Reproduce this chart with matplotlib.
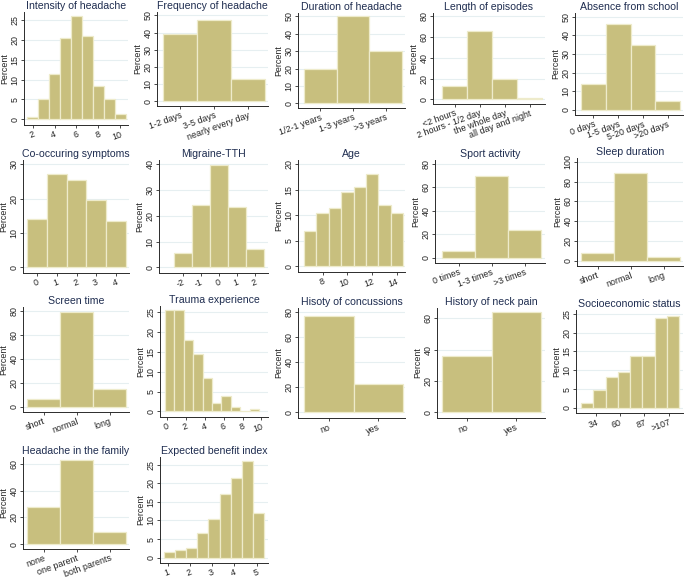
import matplotlib
matplotlib.use('Agg')
import matplotlib.pyplot as plt

plt.rcParams['font.family'] = ['Liberation Sans', 'DejaVu Sans']

W, H = 685, 578
FILL = '#C8BF7E'
EDGE = '#EEEBCB'
GRID = '#E6EFF1'
TITLE = '#1F2D50'
AXC = '#2b2b2b'
FS = 6.4

# ---------------- data ----------------
intensity_x = [2, 3, 4, 5, 6, 7, 8, 9, 10]
intensity_pct = [0.5, 5, 11.5, 20.5, 26, 21, 8.5, 5, 1.3]

frequency_cat = ['1-2 days', '3-5 days', 'nearly every day']
frequency_pct = [39, 47.5, 13]

duration_cat = ['1/2-1 years', '1-3 years', '>3 years']
duration_pct = [19.5, 50, 30]

episode_cat = ['<2 hours', '2 hours - 1/2 day', 'the whole day', 'all day and night']
episode_pct = [12.5, 65.5, 19.5, 1.5]

absence_cat = ['0 days', '1-5 days', '5-20 days', '>20 days']
absence_pct = [14, 46, 35, 5]

cooccur_x = [0, 1, 2, 3, 4]
cooccur_pct = [14, 27, 25.5, 19.5, 13.5]

migraine_x = [-2, -1, 0, 1, 2]
migraine_pct = [5.5, 24, 39.5, 23.5, 7]

age_x = [7, 8, 9, 10, 11, 12, 13, 14]
age_pct = [7, 10.5, 11.5, 14.5, 15.5, 18, 12, 10.5]

sport_cat = ['0 times', '1-3 times', '>3 times']
sport_pct = [5.5, 70, 24]

sleep_cat = ['short', 'normal', 'long']
sleep_pct = [7.5, 89, 3.5]

screen_cat = ['short', 'normal', 'long']
screen_pct = [6.5, 79, 14.5]

trauma_x = [0, 1, 2, 3, 4, 5, 6, 7, 8, 9]
trauma_pct = [25.5, 25.5, 18, 14.5, 8.5, 2, 4, 1, 0, 0.5]

concussion_cat = ['no', 'yes']
concussion_pct = [77, 23]

neck_cat = ['no', 'yes']
neck_pct = [36, 64]

ses_x = [24, 37.5, 51, 64.5, 78, 91.5, 105, 118.5]
ses_pct = [1.3, 4.8, 8.2, 9.5, 13.7, 13.7, 24, 24.5]
ses_ticks = [34, 60, 87, 114]
ses_ticklabels = ['34', '60', '87', '>107']

family_cat = ['none', 'one parent', 'both parents']
family_pct = [28, 62.5, 9]

benefit_x = [1.08, 1.58, 2.08, 2.58, 3.08, 3.58, 4.08, 4.58, 5.08]
benefit_pct = [1.5, 2, 2.5, 6.5, 10.5, 17, 21.5, 26, 12]

fig = plt.figure(figsize=(W / 100, H / 100), dpi=100)
fig.patch.set_facecolor('white')


def panel(title, centers, width, heights, xticks, xticklabels, yticks, box, barpx, xshift=0.0):
    L, T, R, B = box
    ax = fig.add_axes([L / W, 1 - B / H, (R - L) / W, (B - T) / H])
    centers = [c + xshift for c in centers]
    dl = centers[0] - width / 2
    dr = centers[-1] + width / 2
    bl, br = barpx
    s = (br - bl) / (dr - dl)
    ax.set_xlim(dl - (bl - L) / s, dr + (R - br) / s)
    top = max(max(yticks), max(heights))
    ax.set_ylim(-0.055 * top, top * 1.04)
    for y in yticks:
        ax.axhline(y, color=GRID, lw=0.8, zorder=0)
    ax.bar(centers, heights, width=width, color=FILL, edgecolor=EDGE, lw=0.9, zorder=2)
    ax.set_yticks(yticks)
    ax.set_yticklabels([str(v) for v in yticks], rotation=90, va='center', fontsize=FS)
    ax.set_xticks(xticks)
    ax.set_xticklabels(xticklabels, rotation=20, ha='right', va='top',
                       rotation_mode='anchor', fontsize=FS)
    for sp in ['top', 'right']:
        ax.spines[sp].set_visible(False)
    for sp in ['left', 'bottom']:
        ax.spines[sp].set_color(AXC)
        ax.spines[sp].set_linewidth(0.7)
    ax.tick_params(axis='both', length=2.2, width=0.6, color=AXC, pad=1.2, labelcolor='#222222')
    ax.set_ylabel('Percent', fontsize=FS, labelpad=0.8, color='#222222')
    ax.set_title(title, fontsize=7.6, color=TITLE, pad=2.5)
    ax.set_facecolor('white')
    return ax


def cat(labels):
    return list(range(len(labels)))


# Row 1
panel('Intensity of headache', intensity_x, 1, intensity_pct, [2, 4, 6, 8, 10],
      ['2', '4', '6', '8', '10'], [0, 5, 10, 15, 20, 25], (24, 12, 128, 125), (27, 126))
panel('Frequency of headache', cat(frequency_cat), 1, frequency_pct, cat(frequency_cat),
      frequency_cat, [0, 10, 20, 30, 40, 50], (157, 12, 268, 106), (163, 265))
panel('Duration of headache', cat(duration_cat), 1, duration_pct, cat(duration_cat),
      duration_cat, [0, 10, 20, 30, 40, 50], (298, 13, 405, 108), (304, 402))
panel('Length of episodes', cat(episode_cat), 1, episode_pct, cat(episode_cat),
      episode_cat, [0, 20, 40, 60, 80], (433, 13, 545, 104), (442, 542))
panel('Absence from school', cat(absence_cat), 1, absence_pct, cat(absence_cat),
      absence_cat, [0, 10, 20, 30, 40, 50], (575, 13, 683, 115), (581, 680))

# Row 2
panel('Co-occuring symptoms', cooccur_x, 1, cooccur_pct, cooccur_x,
      [str(v) for v in cooccur_x], [0, 10, 20, 30], (23, 160, 129, 273), (27, 126))
panel('Migraine-TTH', migraine_x, 1, migraine_pct, migraine_x,
      [str(v) for v in migraine_x], [0, 10, 20, 30, 40], (159, 160, 268, 273), (174, 264))
panel('Age', age_x, 1, age_pct, [8, 10, 12, 14],
      ['8', '10', '12', '14'], [0, 5, 10, 15, 20], (298, 160, 405, 272), (304, 403))
panel('Sport activity', cat(sport_cat), 1, sport_pct, cat(sport_cat),
      sport_cat, [0, 20, 40, 60, 80], (435, 160, 545, 263), (442, 541))
panel('Sleep duration', cat(sleep_cat), 1, sleep_pct, cat(sleep_cat),
      sleep_cat, [0, 20, 40, 60, 80, 100], (577, 158, 683, 266), (581, 680))

# Row 3
panel('Screen time', cat(screen_cat), 1, screen_pct, cat(screen_cat),
      screen_cat, [0, 20, 40, 60, 80], (23, 307, 129, 412), (27, 126))
panel('Trauma experience', trauma_x, 1, trauma_pct, [0, 2, 4, 6, 8, 10],
      ['0', '2', '4', '6', '8', '10'], [0, 5, 10, 15, 20, 25], (160, 306, 268, 417), (165, 259),
      xshift=0.25)
panel('Hisoty of concussions', cat(concussion_cat), 1, concussion_pct, cat(concussion_cat),
      concussion_cat, [0, 20, 40, 60, 80], (298, 308, 405, 418), (304, 403))
panel('History of neck pain', cat(neck_cat), 1, neck_pct, cat(neck_cat),
      neck_cat, [0, 20, 40, 60], (437, 308, 545, 418), (442, 541))
panel('Socioeconomic status', ses_x, 13.5, ses_pct, ses_ticks,
      ses_ticklabels, [0, 5, 10, 15, 20, 25], (576, 310, 683, 413), (581, 679))

# Row 4
panel('Headache in the family', cat(family_cat), 1, family_pct, cat(family_cat),
      family_cat, [0, 20, 40, 60], (23, 457, 129, 549), (27, 126))
panel('Expected benefit index', benefit_x, 0.5, benefit_pct, [1, 2, 3, 4, 5],
      ['1', '2', '3', '4', '5'], [0, 5, 10, 15, 20, 25], (160, 457, 268, 563), (164, 264))

fig.savefig('out.png', dpi=100, facecolor='white')
